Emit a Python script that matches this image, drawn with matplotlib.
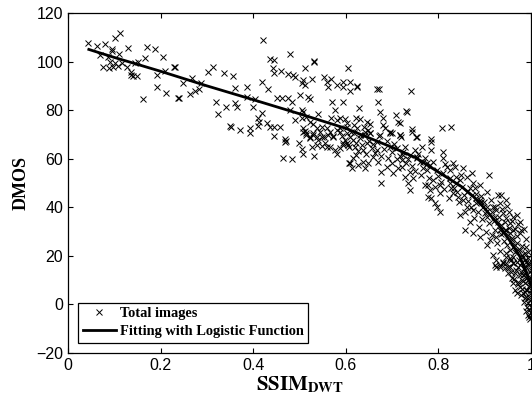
import matplotlib
matplotlib.use("Agg")
import matplotlib.pyplot as plt
import numpy as np

plt.rcParams['mathtext.fontset'] = 'stix'

# scatter points (SSIM_DWT, DMOS), grouped by region
pts_left = [(.044,107.8),(.062,106.5),(.080,107.1),(.102,109.7),(.112,111.6),(.094,105.0),(.096,104.3),
    (.111,103.1),(.069,102.7),(.087,101.7),(.091,100.0),(.102,99.3),(.076,97.9),(.089,97.2),(.098,97.9),
    (.107,98.3),(.116,99.5),(.127,97.9),(.130,105.4),(.137,95.8),(.141,94.0),(.148,94.0),(.137,94.5),
    (.145,99.3),(.152,100.0),(.166,101.3),(.170,106.1),(.188,105.0),(.192,94.5),(.206,101.7),(.192,89.6),
    (.211,86.9),(.163,84.4),(.231,97.9),(.210,96.1),(.238,84.8)]

pts_mid = [(.229,97.9),(.422,108.9),(.436,100.9),(.444,100.6),(.480,103.0),(.531,100.4),(.531,99.8),
    (.605,97.2),(.443,97.2),(.459,96.1),(.444,95.4),(.476,94.9),(.485,94.5),(.490,93.8),(.511,97.5),
    (.508,92.4),(.505,91.0),(.512,90.3),(.528,92.8),(.552,93.5),(.559,91.7),(.562,89.6),(.569,92.8),
    (.593,91.7),(.594,89.4),(.580,90.3),(.302,95.8),(.314,97.9),(.336,95.4),(.356,94.0),(.267,93.4),
    (.248,91.3),(.287,91.0),(.240,84.9),(.264,86.5),(.274,88.0),(.283,88.6),(.360,89.0),(.387,89.6),
    (.418,91.7),(.433,88.7),(.319,83.5),(.342,81.4),(.361,82.8),(.364,81.4),(.325,78.4),(.386,85.5),
    (.404,84.6),(.400,81.4),(.418,78.7),(.451,85.1),(.462,85.1),(.476,84.9),(.483,83.5),(.501,86.2),
    (.519,85.5),(.523,84.6),(.479,80.1),(.505,80.1),(.508,79.3),(.571,83.5),(.594,83.2),(.577,80.1),
    (.411,76.6),(.413,75.3),(.430,74.6),(.436,73.2),(.444,72.9),(.458,73.2),(.350,73.5),(.353,72.9),
    (.371,71.8),(.393,72.5),(.394,70.7),(.411,73.5),(.444,69.3),(.469,68.0),(.490,75.9),(.505,76.6),
    (.515,77.3),(.523,75.2),(.530,74.3),(.540,78.4),(.508,72.5),(.512,71.5),(.515,70.4),(.523,69.1),
    (.530,69.8),(.548,73.2),(.559,72.5),(.566,71.1),(.573,69.1),(.580,71.8),(.569,76.6),(.580,75.9),
    (.587,76.6),(.598,76.2),(.602,74.6),(.537,72.5),(.544,71.1),(.552,69.1)]

pts_upper_right = [(.609,91.7),(.609,88.0),(.624,89.4),(.625,89.9),(.668,88.6),(.672,88.6),(.740,87.9),
    (.670,83.5),(.629,80.7),(.674,79.1),(.731,79.6),(.733,79.1),(.708,78.0),(.713,75.3),(.717,74.6),
    (.681,76.6),(.680,73.9),(.685,72.5),(.695,71.1),(.699,70.7),(.717,69.8),(.719,69.1),(.742,72.1),
    (.752,69.1),(.783,68.0),(.807,72.5),(.828,72.9),(.623,76.6),(.631,76.2),(.645,75.2),(.652,74.3),
    (.639,73.2),(.649,71.8),(.652,70.4),(.602,73.2),(.617,73.9),(.625,72.5),(.617,70.4),(.631,69.8),
    (.641,71.1),(.672,69.3),(.587,72.5)]

pts_center = [(.469,67.0),(.471,67.4),(.498,66.3),(.505,63.9),(.507,61.9),(.465,60.2),(.483,59.7),
    (.531,61.1),(.508,71.1),(.515,69.8),(.523,68.4),(.530,70.4),(.537,69.1),(.541,67.7),(.548,69.1),
    (.555,66.3),(.562,69.8),(.573,69.3),(.526,65.0),(.537,65.6),(.548,65.2),(.559,64.7),(.566,65.0),
    (.577,63.6),(.580,61.9),(.588,64.3),(.595,65.6),(.602,66.3),(.606,64.9),(.606,58.4)]

pts_dense = [(.587,71.1),(.602,70.4),(.609,69.1),(.595,66.3),(.605,65.6),(.616,67.7),(.623,66.3),
    (.631,68.4),(.641,69.8),(.652,70.4),(.645,66.3),(.656,64.3),(.638,63.6),(.623,61.5),(.616,60.2),
    (.609,58.1),(.613,56.0),(.627,57.4),(.638,58.8),(.649,58.1),(.641,56.0),(.659,60.8),(.667,63.6),
    (.670,58.8),(.674,69.8),(.695,70.4),(.717,69.8),(.742,71.1),(.753,69.1),(.785,67.0),(.785,63.6),
    (.810,62.9),(.677,54.7),(.677,49.9),(.688,56.7),(.699,58.1),(.703,54.0),(.713,56.0),(.721,59.5),
    (.724,61.5),(.731,58.1),(.739,54.7),(.735,49.9),(.739,47.1),(.728,52.6),(.746,51.9),(.749,63.6),
    (.753,60.8),(.760,58.8),(.764,65.0),(.767,56.0),(.775,58.1),(.771,49.2),(.778,49.2),(.782,47.1),
    (.778,44.4),(.785,43.7),(.793,41.6),(.796,40.3),(.803,38.2),(.789,51.2),(.803,49.2),(.803,45.7),
    (.810,60.2),(.818,56.7),(.825,55.4),(.832,58.1),(.836,56.7),(.839,52.6),(.846,51.2),(.853,56.0),
    (.861,52.6),(.872,54.0),(.875,49.9),(.879,47.8),(.889,49.2),(.904,46.4),(.910,53.3),(.929,45.0),
    (.936,45.0),(.825,51.9),(.828,47.8),(.832,45.7),(.843,44.4),(.853,43.0),(.861,40.3),(.846,36.8),
    (.857,30.7),(.868,34.1),(.875,38.9),(.882,41.6),(.889,43.0),(.897,40.3),(.900,37.5),(.904,36.1),
    (.915,38.2),(.918,40.3),(.925,38.9),(.933,41.6),(.940,37.5),(.947,35.4),(.954,33.4),(.962,36.1),
    (.969,36.8),(.976,34.1),(.875,29.3),(.889,27.9),(.904,24.5),(.911,26.5),(.922,30.7),(.925,27.9),
    (.933,30.7),(.940,29.3),(.947,30.7),(.954,29.3),(.962,30.7),(.976,29.3),(.918,20.4),(.925,18.3),
    (.933,16.2),(.947,21.0),(.954,19.0),(.962,23.8),(.969,25.2),(.976,22.4),(.983,19.7),(.990,17.6),
    (.925,15.5),(.940,16.9),(.951,15.5),(.962,16.9),(.972,15.5),(.980,17.6),(.987,21.0),(.990,23.8),
    (.994,19.0),(.997,16.9),(.695,65.0),(.710,64.3),(.724,62.9),(.739,61.5),(.753,60.2),(.767,58.8),
    (.782,57.4),(.796,55.4),(.810,54.0),(.839,49.9),(.850,48.5),(.861,46.4),(.872,45.0),(.882,43.7),
    (.893,42.3),(.904,40.3),(.922,36.1),(.929,34.1),(.936,32.7),(.944,30.7),(.951,28.6),(.958,26.5),
    (.965,24.5),(.972,22.4),(.980,20.4),(.987,18.3),(.994,16.2)]

pts_extra = [(.592,69.5),(.598,67.8),(.612,71.0),(.619,64.8),(.626,63.0),(.634,65.5),(.643,61.8),
    (.651,67.2),(.659,65.9),(.663,62.5),(.668,66.8),(.676,61.2),(.682,64.0),(.688,67.5),(.692,60.5),
    (.700,62.8),(.705,66.0),(.711,59.8),(.717,61.0),(.722,56.5),(.728,64.8),(.734,60.0),(.744,57.2),
    (.750,55.0),(.757,62.0),(.762,53.5),(.770,60.5),(.776,55.5),(.780,52.0),(.788,58.5),(.792,48.5),
    (.799,53.0),(.806,50.5),(.813,47.5),(.815,58.0),(.822,44.0),(.826,50.0),(.834,48.0),(.840,46.5),
    (.845,42.0),(.849,53.5),(.856,45.0),(.858,38.0),(.864,42.5),(.868,48.0),(.871,40.0),(.877,35.5),
    (.881,45.5),(.885,38.0),(.887,32.0),(.892,44.5),(.895,35.0),(.899,42.0),(.902,30.0),(.906,38.5),
    (.909,33.5),(.913,43.0),(.916,28.5),(.920,34.5),(.923,40.0),(.927,25.5),(.930,36.0),(.932,22.0),
    (.935,29.0),(.938,39.5),(.941,26.0),(.943,34.0),(.946,19.5),(.949,24.5),(.952,31.5),(.955,22.5),
    (.957,13.5),(.959,27.5),(.961,19.5),(.963,10.5),(.966,21.5),(.968,14.0),(.970,28.0),(.972,8.5),
    (.974,18.5),(.976,12.0),(.978,4.0),(.980,24.0),(.982,9.5),(.984,15.0),(.986,2.5),(.988,12.5),
    (.990,6.0),(.992,-1.0),(.994,10.0),(.996,3.0),(.998,8.0),(.999,-3.5),(.997,13.5),(.993,21.5),
    (.989,27.0),(.985,31.0),(.979,30.5),(.971,33.0),(.965,31.0),(.960,34.5),(.953,38.0),(.948,40.5),
    (.945,43.0)]

pts_blob = [(.922,16.2),(.933,15.5),(.944,14.9),(.951,12.8),(.958,10.7),(.962,8.7),(.965,5.9),(.969,4.6),
    (.976,7.3),(.980,10.1),(.983,12.1),(.987,14.2),(.990,15.5),(.994,16.9),(.997,11.4),(.999,5.9),
    (.994,0.4),(.996,-2.3),(.990,3.2),(.983,4.6),(.972,9.4),(.965,12.8),(.954,15.5),(.947,16.9),
    (.940,17.6),(.962,16.9),(.976,16.2),(.987,8.7),(.992,5.9),(.997,1.8),(.999,-0.9),(1.0,14.2),
    (1.0,10.1),(1.0,4.6),(.981,6.5),(.985,0.8),(.989,-2.8),(.993,-4.5),(.995,7.5),(.991,11.0),
    (.986,5.0),(.978,13.5),(.970,17.5),(.956,18.5),(.998,-6.0),(.996,-5.0)]

# fitted logistic curve
fit_x = [0.045, 0.1, 0.2, 0.3, 0.4, 0.5, 0.6, 0.7, 0.75, 0.8, 0.85, 0.875, 0.9, 0.933, 0.955, 0.976, 1.0]
fit_y = [105.0, 101.7, 96.0, 90.0, 84.3, 78.5, 72.5, 64.7, 60.5, 54.5, 48.5, 44.5, 39.5, 32.0, 26.0, 19.7, 8.0]

pts = np.array(pts_left + pts_mid + pts_upper_right + pts_center + pts_dense + pts_extra + pts_blob)
ssim = pts[:, 0]
dmos = pts[:, 1]

fig = plt.figure(figsize=(5.32, 4.07), dpi=100)
ax = fig.add_axes([68/532, 1-353/407, 463/532, 340/407])

ax.plot(ssim, dmos, 'x', color='black', markersize=4.5, markeredgewidth=0.7, label='Total images')
ax.plot(fit_x, fit_y, '-', color='black', linewidth=2, label='Fitting with Logistic Function')

ax.set_xlim(0, 1)
ax.set_ylim(-20, 120)
ax.set_xticks([0, 0.2, 0.4, 0.6, 0.8, 1])
ax.set_xticklabels(['0', '0.2', '0.4', '0.6', '0.8', '1'])
ax.set_yticks(np.arange(-20, 121, 20))
ax.tick_params(direction='in', length=3.6, width=0.8, top=True, right=True, labelsize=11.5, pad=3.5)
for lab in ax.get_xticklabels() + ax.get_yticklabels():
    lab.set_fontfamily('Liberation Sans')
for s in ax.spines.values():
    s.set_linewidth(0.9)

ax.set_xlabel(r'$\mathbf{SSIM}_{\mathbf{DWT}}$', fontsize=15, labelpad=1)
ax.set_ylabel('DMOS', fontsize=13, fontweight='bold', fontfamily='Liberation Serif', labelpad=5)

leg = ax.legend(loc='lower left', bbox_to_anchor=(0.022, 0.03), borderaxespad=0, fancybox=False,
                edgecolor='black', framealpha=1, handlelength=2.3, handletextpad=0.3,
                labelspacing=0.35, borderpad=0.3,
                prop={'family': 'Liberation Serif', 'weight': 'bold', 'size': 10.4})
leg.get_frame().set_linewidth(0.9)

fig.savefig('out.png', dpi=100)
